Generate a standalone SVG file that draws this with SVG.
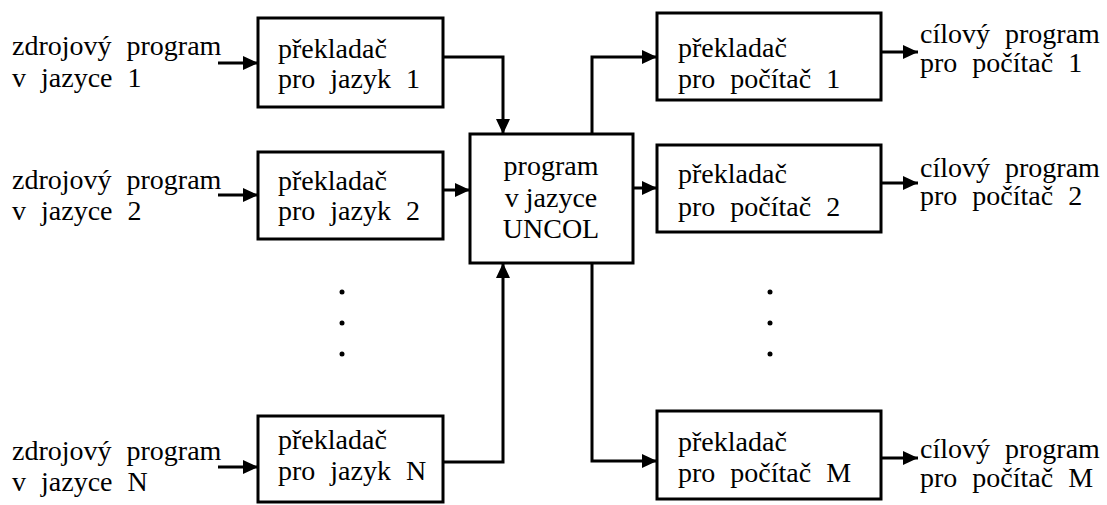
<svg xmlns="http://www.w3.org/2000/svg" width="1107" height="505" viewBox="0 0 1107 505">
<style>
  .box { fill: #fff; stroke: #000; stroke-width: 3; }
  .t { font-family: "Liberation Serif", "Times New Roman", serif; font-size: 28px; fill: #000; word-spacing: 8px; }
  .c { text-anchor: middle; word-spacing: 0; }
  .ln { fill: none; stroke: #000; stroke-width: 3; marker-end: url(#ah); }
</style>
<defs>
  <marker id="ah" viewBox="0 0 15 14" refX="15" refY="7" markerWidth="15" markerHeight="14" markerUnits="userSpaceOnUse" orient="auto">
    <path d="M0 0 L15 7 L0 14 Z" fill="#000"/>
  </marker>
</defs>
<rect width="1107" height="505" fill="#fff"/>

<g id="connectors">
  <path class="ln" d="M218 63 H258"/>
  <path class="ln" d="M218 195 H258"/>
  <path class="ln" d="M218 467 H258"/>
  <path class="ln" d="M443 57 H503 V134"/>
  <path class="ln" d="M443 190 H470"/>
  <path class="ln" d="M443 462 H503 V263"/>
  <path class="ln" d="M592 134 V57 H657"/>
  <path class="ln" d="M633 188 H657"/>
  <path class="ln" d="M592 263 V461 H657"/>
  <path class="ln" d="M881 52 H918"/>
  <path class="ln" d="M881 183 H918"/>
  <path class="ln" d="M881 458 H918"/>
</g>

<g id="src1"><text class="t" x="12" y="55">zdrojový program</text><text class="t" x="12" y="87">v jazyce 1</text></g>
<g id="src2"><text class="t" x="12" y="189">zdrojový program</text><text class="t" x="12" y="220">v jazyce 2</text></g>
<g id="srcN"><text class="t" x="12" y="460">zdrojový program</text><text class="t" x="12" y="491">v jazyce N</text></g>

<g id="comp1"><rect class="box" x="258" y="18" width="185" height="89"/><text class="t" x="278" y="58">překladač</text><text class="t" x="278" y="88">pro jazyk 1</text></g>
<g id="comp2"><rect class="box" x="258" y="152" width="185" height="87"/><text class="t" x="278" y="190">překladač</text><text class="t" x="278" y="220">pro jazyk 2</text></g>
<g id="compN"><rect class="box" x="258" y="416" width="185" height="86"/><text class="t" x="278" y="449">překladač</text><text class="t" x="278" y="480">pro jazyk N</text></g>

<g id="uncol"><rect class="box" x="470" y="134" width="163" height="129"/><text class="t c" x="551" y="175">program</text><text class="t c" x="551" y="207">v jazyce</text><text class="t c" x="551" y="238">UNCOL</text></g>

<g id="tgt1"><rect class="box" x="657" y="13" width="224" height="87"/><text class="t" x="678" y="57">překladač</text><text class="t" x="678" y="88">pro počítač 1</text></g>
<g id="tgt2"><rect class="box" x="657" y="145" width="224" height="87"/><text class="t" x="678" y="183">překladač</text><text class="t" x="678" y="216">pro počítač 2</text></g>
<g id="tgtM"><rect class="box" x="657" y="411" width="224" height="88"/><text class="t" x="678" y="451">překladač</text><text class="t" x="678" y="482">pro počítač M</text></g>

<g id="out1"><text class="t" x="920" y="43">cílový program</text><text class="t" x="920" y="72">pro počítač 1</text></g>
<g id="out2"><text class="t" x="920" y="177">cílový program</text><text class="t" x="920" y="205">pro počítač 2</text></g>
<g id="outM"><text class="t" x="920" y="458">cílový program</text><text class="t" x="920" y="487">pro počítač M</text></g>

<g id="dotsL"><circle cx="342" cy="292" r="2.5"/><circle cx="342" cy="323" r="2.5"/><circle cx="342" cy="354" r="2.5"/></g>
<g id="dotsR"><circle cx="770" cy="292" r="2.5"/><circle cx="770" cy="323" r="2.5"/><circle cx="770" cy="354" r="2.5"/></g>
</svg>
